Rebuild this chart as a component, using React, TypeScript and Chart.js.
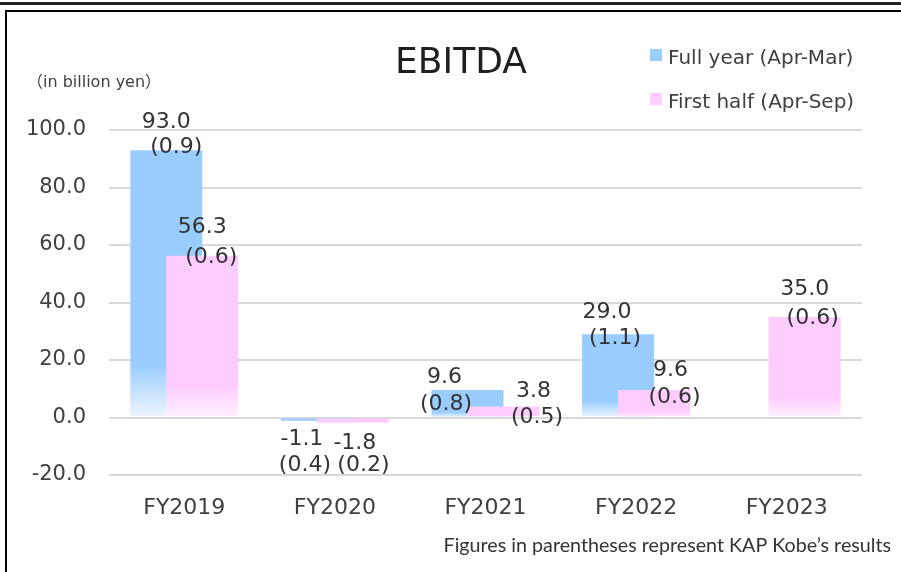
import React, { useEffect, useRef } from "react";
import { Chart, registerables } from "chart.js";

Chart.register(...registerables);

// ---------- data ----------
const categories = ["FY2019", "FY2020", "FY2021", "FY2022", "FY2023"];
const fullYear: (number | null)[] = [93.0, -1.1, 9.6, 29.0, null];
const firstHalf: (number | null)[] = [56.3, -1.8, 3.8, 9.6, 35.0];
const fullYearKobe: (number | null)[] = [0.9, 0.4, 0.8, 1.1, null];
const firstHalfKobe: (number | null)[] = [0.6, 0.2, 0.5, 0.6, 0.6];
const yMin = -20;
const yMax = 100;
const yStep = 20;
const seriesNames = ["Full year (Apr-Mar)", "First half (Apr-Sep)"];
const chartTitle = "EBITDA";
const unitLabel = "（in billion yen）";
const footnote = "Figures in parentheses represent KAP Kobe’s results";

// ---------- styles ----------
const BLUE = "#99CCFF";
const BLUE_FAINT = "#EEF6FF";
const PINK = "#FFCCFF";
const PINK_FAINT = "#FFF2FF";
const TEXT = "#404040";
const LABEL_TEXT = "#333333";
const FONT = '"DejaVu Sans", "Noto Sans CJK JP", sans-serif';

// label offsets relative to the bar end: [dx1, dy1, dx2, dy2]
const fullYearLabelOffsets = [
  [0, -28, 10, -3],
  [-15, 19, -12, 45],
  [-23, -13, -21.5, 14],
  [-11, -22, -3, 4],
  null,
];
const firstHalfLabelOffsets = [
  [0, -28, 9, 2],
  [2, 21, 10.5, 43],
  [30, -15, 33.5, 11],
  [16.5, -20, 20.5, 7],
  [0, -27.5, 8, 1],
];

function barGradient(solid: string, faint: string) {
  return (ctx: any) => {
    const chart = ctx.chart;
    if (!chart.chartArea || ctx.type !== "data") return solid;
    const v = ctx.raw;
    if (v == null) return solid;
    const ys = chart.scales.y;
    const top = ys.getPixelForValue(v);
    const base = ys.getPixelForValue(0);
    if (Math.abs(base - top) < 2) return solid;
    const g = chart.ctx.createLinearGradient(0, top, 0, base);
    g.addColorStop(0, solid);
    g.addColorStop(0.8, solid);
    g.addColorStop(1, faint);
    return g;
  };
}

const drawOrderPlugin = {
  id: "drawOrder",
  beforeDatasetsDraw(chart: any) {
    const metas = chart.getSortedVisibleDatasetMetas();
    for (const m of metas) m.controller.draw();
    return false;
  },
};

const decorPlugin = {
  id: "decor",
  beforeDraw(chart: any) {
    const c = chart.ctx;
    c.save();
    c.fillStyle = "#ffffff";
    c.fillRect(0, 0, chart.width, chart.height);
    c.fillStyle = "#222222";
    c.fillRect(0, 2, chart.width, 3);
    c.fillStyle = "#000000";
    c.fillRect(5, 10, chart.width - 5, 2);
    c.fillRect(5, 10, 2, chart.height - 10);
    c.restore();
  },
  afterDraw(chart: any) {
    const c = chart.ctx;
    c.save();
    // title
    c.fillStyle = "#1f1f1f";
    c.font = `36px ${FONT}`;
    c.textAlign = "center";
    c.textBaseline = "alphabetic";
    c.fillText(chartTitle, 461, 73);
    // unit
    c.fillStyle = TEXT;
    c.font = `16px ${FONT}`;
    c.textAlign = "left";
    c.fillText(unitLabel, 27, 87);
    // legend
    const colors = [BLUE, PINK];
    const baselines = [64, 108];
    c.font = `20px ${FONT}`;
    seriesNames.forEach((name, i) => {
      c.fillStyle = colors[i];
      c.fillRect(650, baselines[i] - 15, 12, 12);
      c.fillStyle = TEXT;
      c.fillText(name, 668, baselines[i]);
    });
    // footnote
    c.font = "19.7px Lato, sans-serif";
    c.textAlign = "right";
    c.fillStyle = "#333333";
    c.fillText(footnote, 891, 552);
    // data labels
    c.font = `22px ${FONT}`;
    c.textAlign = "center";
    c.textBaseline = "middle";
    c.fillStyle = LABEL_TEXT;
    const series = [
      { vals: fullYear, kobe: fullYearKobe, offs: fullYearLabelOffsets },
      { vals: firstHalf, kobe: firstHalfKobe, offs: firstHalfLabelOffsets },
    ];
    series.forEach((s, di) => {
      const meta = chart.getDatasetMeta(di);
      s.vals.forEach((v, j) => {
        if (v == null) return;
        const el = meta.data[j];
        const o = s.offs[j] || [0, -28, 0, -2];
        c.fillText(v.toFixed(1), el.x + o[0], el.y + o[1]);
        const k = s.kobe[j];
        if (k != null) c.fillText(`(${k.toFixed(1)})`, el.x + o[2], el.y + o[3]);
      });
    });
    c.restore();
  },
};

export default function App() {
  const ref = useRef<HTMLCanvasElement | null>(null);
  useEffect(() => {
    if (!ref.current) return;
    const chart = new Chart(ref.current, {
      type: "bar",
      data: {
        labels: categories,
        datasets: [
          {
            label: seriesNames[0],
            data: fullYear as any,
            backgroundColor: barGradient(BLUE, BLUE_FAINT) as any,
            borderWidth: 0,
          },
          {
            label: seriesNames[1],
            data: firstHalf as any,
            backgroundColor: barGradient(PINK, PINK_FAINT) as any,
            borderWidth: 0,
          },
        ],
      },
      options: {
        responsive: false,
        animation: false,
        devicePixelRatio: 1,
        layout: { padding: { top: 130, left: 0, right: 39, bottom: 0 } },
        datasets: {
          bar: { barPercentage: 2, categoryPercentage: 0.478 },
        } as any,
        plugins: {
          legend: { display: false },
          title: { display: false },
          tooltip: { enabled: false },
        },
        scales: {
          x: {
            grid: { display: false, drawTicks: false },
            border: { display: false },
            ticks: {
              color: TEXT,
              font: { family: FONT, size: 22 },
              padding: 20,
              maxRotation: 0,
            },
            afterFit: (s: any) => {
              s.height = 97;
            },
          },
          y: {
            min: yMin,
            max: yMax,
            grid: { color: "#D9D9D9", lineWidth: 2, drawTicks: false },
            border: { display: false },
            ticks: {
              stepSize: yStep,
              color: TEXT,
              font: { family: FONT, size: 21 },
              padding: 23,
              callback: (v: any) => Number(v).toFixed(1),
            },
            afterFit: (s: any) => {
              s.width = 109;
            },
          },
        },
      },
      plugins: [drawOrderPlugin, decorPlugin],
    });
    return () => chart.destroy();
  }, []);
  return (
    <div style={{ position: "fixed", left: 0, top: 0, width: 901, height: 572 }}>
      <canvas ref={ref} width={901} height={572} style={{ display: "block" }} />
    </div>
  );
}
